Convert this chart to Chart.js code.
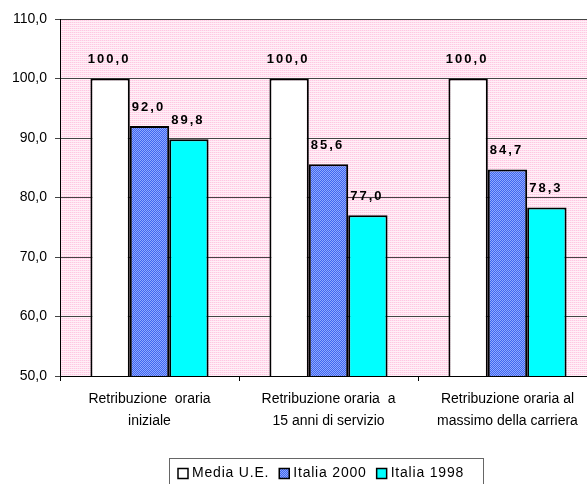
<!DOCTYPE html>
<html>
<head>
<meta charset="utf-8">
<script src="https://cdn.jsdelivr.net/npm/chart.js@4"></script>
<style>
  html, body { margin: 0; padding: 0; background: #fff; overflow: hidden; }
  #wrap { width: 600px; height: 484px; }
</style>
</head>
<body>
<div id="wrap"><canvas id="chart" width="600" height="484"></canvas></div>
<script>
const categories = [
  ["Retribuzione  oraria", "iniziale"],
  ["Retribuzione oraria  a", "15 anni di servizio"],
  ["Retribuzione oraria al", "massimo della carriera"]
];
const mediaUE = [100.0, 100.0, 100.0];
const italia2000 = [92.0, 85.6, 84.7];
const italia1998 = [89.8, 77.0, 78.3];
const seriesNames = ["Media U.E.", "Italia 2000", "Italia 1998"];
const yTicks = [50, 60, 70, 80, 90, 100, 110];

const FONT = "'Liberation Sans', Arial, sans-serif";

// small tiled patterns that imitate the excel fills
function makePattern(size, draw) {
  const c = document.createElement("canvas");
  c.width = size;
  c.height = size;
  const g = c.getContext("2d");
  draw(g);
  return document.getElementById("chart").getContext("2d").createPattern(c, "repeat");
}

const pinkFill = makePattern(4, (g) => {
  g.fillStyle = "#ffdeef";
  g.fillRect(0, 0, 4, 4);
  g.fillStyle = "#ffc8e2";
  g.fillRect(0, 0, 1, 4);
  g.fillRect(2, 0, 1, 4);
  g.fillStyle = "#fff0f7";
  g.fillRect(0, 1, 4, 1);
  g.fillRect(0, 3, 4, 1);
});

const blueFill = makePattern(4, (g) => {
  g.fillStyle = "#3f66ee";
  g.fillRect(0, 0, 4, 4);
  g.fillStyle = "#8fa8ff";
  for (let i = 0; i < 4; i++) {
    g.fillRect(i, i, 1, 1);
    g.fillRect((i + 2) % 4, i, 1, 1);
  }
});

const fmt = (v) => v.toFixed(1).replace(".", ",");

// excel spreads its text a bit wider than the browser does
const spacing = {
  id: "spacing",
  beforeInit(chart) {
    if ("letterSpacing" in chart.ctx) chart.ctx.letterSpacing = "0.6px";
  },
};

// pink background of the plot area
const plotBackground = {
  id: "plotBackground",
  beforeDraw(chart) {
    const { ctx, chartArea: a } = chart;
    ctx.save();
    ctx.fillStyle = pinkFill;
    ctx.fillRect(a.left, a.top, a.right - a.left, a.bottom - a.top);
    ctx.restore();
  },
};

// value labels above every bar
const valueLabels = {
  id: "valueLabels",
  afterDatasetsDraw(chart) {
    const ctx = chart.ctx;
    ctx.save();
    ctx.font = "bold 13px " + FONT;
    ctx.fillStyle = "#000";
    ctx.textAlign = "center";
    ctx.textBaseline = "middle";
    if ("letterSpacing" in ctx) ctx.letterSpacing = "2px";
    chart.data.datasets.forEach((ds, di) => {
      chart.getDatasetMeta(di).data.forEach((bar, i) => {
        ctx.fillText(fmt(ds.data[i]), bar.x - 1, bar.y - 19);
      });
    });
    ctx.restore();
  },
};

// boxed legend under the chart
const boxLegend = {
  id: "boxLegend",
  afterDraw(chart) {
    const ctx = chart.ctx;
    ctx.save();
    ctx.font = "14px " + FONT;
    ctx.textBaseline = "middle";
    if ("letterSpacing" in ctx) ctx.letterSpacing = "0.8px";
    const left = 169, top = 458, right = 483;
    ctx.strokeStyle = "#666";
    ctx.lineWidth = 1;
    ctx.strokeRect(left + 0.5, top + 0.5, right - left, 40);
    let x = left + 9;
    const cy = 473.5;
    chart.data.datasets.forEach((ds) => {
      ctx.fillStyle = ds.backgroundColor;
      ctx.fillRect(x, cy - 5, 10, 10);
      ctx.strokeStyle = "#000";
      ctx.lineWidth = 1.5;
      ctx.strokeRect(x, cy - 5, 10, 10);
      ctx.fillStyle = "#000";
      ctx.fillText(ds.label, x + 14, cy);
      x += 14 + ctx.measureText(ds.label).width + 10;
    });
    ctx.restore();
  },
};

new Chart(document.getElementById("chart"), {
  type: "bar",
  data: {
    labels: categories,
    datasets: [
      { label: seriesNames[0], data: mediaUE, backgroundColor: "#ffffff" },
      { label: seriesNames[1], data: italia2000, backgroundColor: blueFill },
      { label: seriesNames[2], data: italia1998, backgroundColor: "#00ffff" },
    ],
  },
  options: {
    responsive: false,
    animation: false,
    devicePixelRatio: 1,
    layout: { padding: { top: 19, right: 3, left: 0, bottom: 0 } },
    datasets: {
      bar: {
        borderColor: "#000",
        borderWidth: 2,
        borderSkipped: false,
        categoryPercentage: 0.66,
        barPercentage: 1.0,
      },
    },
    plugins: {
      legend: { display: false },
      tooltip: { enabled: false },
    },
    scales: {
      x: {
        offset: true,
        grid: {
          offset: true,
          drawOnChartArea: false,
          drawTicks: true,
          tickLength: 5,
          color: "#000",
        },
        border: { color: "#000", width: 1 },
        ticks: {
          color: "#000",
          padding: 7,
          maxRotation: 0,
          autoSkip: false,
          font: { family: FONT, size: 14, lineHeight: 1.6 },
        },
        afterFit(scale) {
          scale.height = 108;
        },
      },
      y: {
        min: 50,
        max: 110,
        afterBuildTicks(scale) {
          scale.ticks = yTicks.map((v) => ({ value: v }));
        },
        grid: { color: "#444", lineWidth: 1, tickLength: 5, drawTicks: true },
        border: { color: "#000", width: 1 },
        ticks: {
          color: "#000",
          padding: 8,
          callback: (v) => fmt(v),
          font: { family: FONT, size: 14 },
        },
        afterFit(scale) {
          scale.width = 60;
        },
      },
    },
  },
  plugins: [spacing, plotBackground, valueLabels, boxLegend],
});
</script>
</body>
</html>
